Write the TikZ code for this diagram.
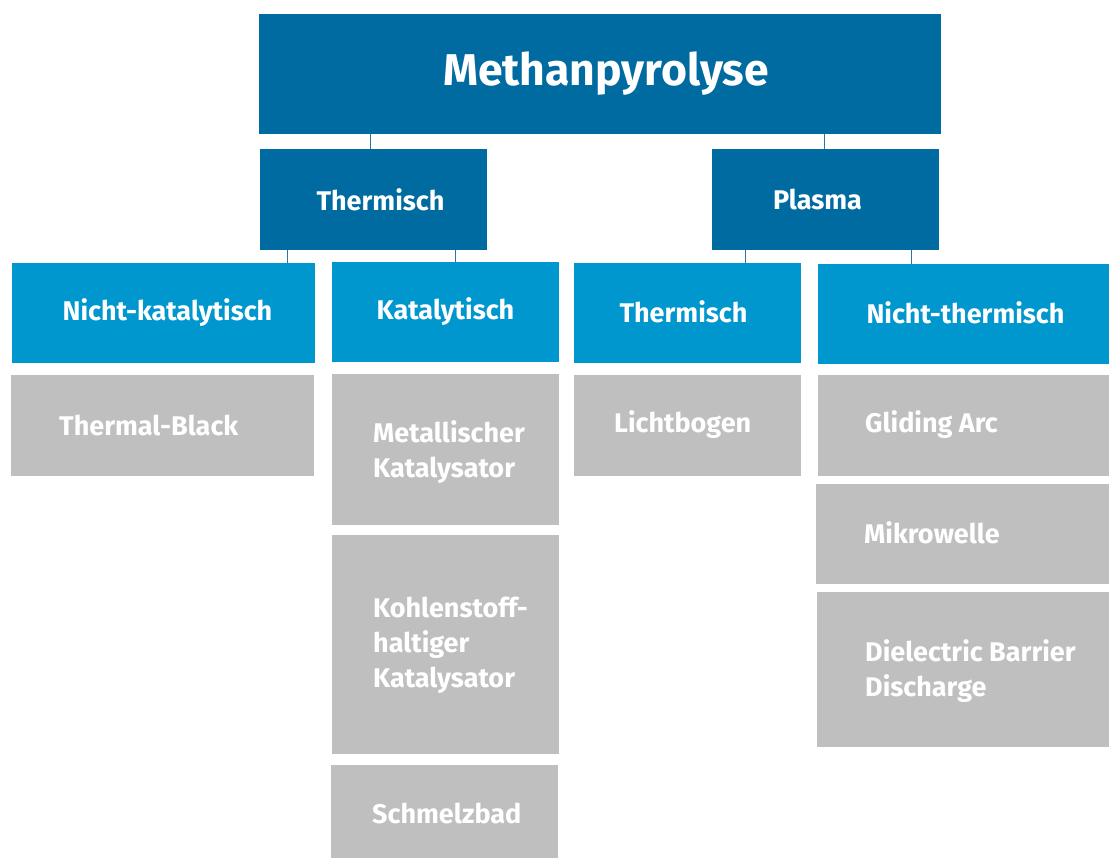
\documentclass[tikz,border=0pt]{standalone}
\usepackage{fontspec}
\setmainfont{Fira Sans}
\begin{document}
\begin{tikzpicture}[x=1pt,y=-1pt,
  box/.style={inner sep=0pt,outer sep=0pt,draw=none,text=white,font=\bfseries\fontsize{27}{27}\selectfont},
  dark/.style={box,fill=dblue},
  light/.style={box,fill=lblue},
  grey/.style={box,fill=greybox},
  gtext/.style={anchor=west,inner sep=0pt,text=white,align=left,font=\bfseries\fontsize{27}{35}\selectfont},
  conn/.style={draw=connc,line width=1pt}]
\definecolor{dblue}{HTML}{006BA0}
\definecolor{lblue}{HTML}{0096CE}
\definecolor{greybox}{HTML}{BFBFBF}
\definecolor{connc}{HTML}{2F73A0}
\useasboundingbox (0,0) rectangle (1109,859);
% top
\node[dark,minimum width=682pt,minimum height=120pt,font=\bfseries\fontsize{44.5}{44.5}\selectfont] (top) at (600,74) {\raisebox{-4pt}{\hspace*{12pt}Methanpyrolyse}};
% level 2
\node[dark,minimum width=227pt,minimum height=101pt] (therm) at (373.5,199.5) {\hspace*{14pt}Thermisch};
\node[dark,minimum width=227pt,minimum height=101pt] (plasma) at (825.5,199.5) {Plasma\hspace*{16pt}};
% level 3
\node[light,minimum width=303pt,minimum height=100pt] (nk) at (163.5,313) {\raisebox{1.5pt}{\hspace*{8pt}Nicht-katalytisch}};
\node[light,minimum width=227pt,minimum height=100pt] (kat) at (445.5,312) {\raisebox{1pt}{Katalytisch}};
\node[light,minimum width=227pt,minimum height=100pt] (pth) at (687.5,313) {\raisebox{2pt}{Thermisch\hspace*{8pt}}};
\node[light,minimum width=291pt,minimum height=100pt] (nth) at (963.5,314) {\raisebox{2pt}{\hspace*{4pt}Nicht-thermisch}};
% level 4 boxes
\node[grey,minimum width=303pt,minimum height=101pt] (tb) at (162.5,425.5) {};
\node[grey,minimum width=227pt,minimum height=151pt] (mk) at (445.5,449.5) {};
\node[grey,minimum width=227pt,minimum height=219pt] (kk) at (445.5,644.5) {};
\node[grey,minimum width=227pt,minimum height=93pt] (sb) at (444.5,811.5) {};
\node[grey,minimum width=227pt,minimum height=101pt] (lb) at (687.5,425.5) {};
\node[grey,minimum width=291pt,minimum height=101pt] (ga) at (963.5,425.5) {};
\node[grey,minimum width=293pt,minimum height=100pt] (mw) at (962.5,534) {};
\node[grey,minimum width=292pt,minimum height=155pt] (dbd) at (963,669.5) {};
% level 4 texts
\node[gtext] (tbt) at (59,425) {Thermal-Black};
\node[gtext] (mkt) at (373,452) {Metallischer\\Katalysator};
\node[gtext] (kkt) at (373,645) {Kohlenstoff-\\haltiger\\Katalysator};
\node[gtext] (sbt) at (372,813) {Schmelzbad};
\node[gtext] (lbt) at (614,425) {Lichtbogen};
\node[gtext] (gat) at (865,425) {Gliding Arc};
\node[gtext] (mwt) at (864,533) {Mikrowelle};
\node[gtext] (dbdt) at (865,671) {Dielectric Barrier\\Discharge};
% connectors
\draw[conn] ([xshift=-3.5pt]therm.north |- top.south) -- ([xshift=-3.5pt]therm.north);
\draw[conn] ([xshift=-1.5pt]plasma.north |- top.south) -- ([xshift=-1.5pt]plasma.north);
\draw[conn] ([xshift=27pt]therm.south west) -- ([xshift=27pt]therm.south west |- nk.north);
\draw[conn] ([xshift=195pt]therm.south west) -- ([xshift=195pt]therm.south west |- kat.north);
\draw[conn] ([xshift=33pt]plasma.south west) -- ([xshift=33pt]plasma.south west |- pth.north);
\draw[conn] ([xshift=199pt]plasma.south west) -- ([xshift=199pt]plasma.south west |- nth.north);
\end{tikzpicture}
\end{document}
